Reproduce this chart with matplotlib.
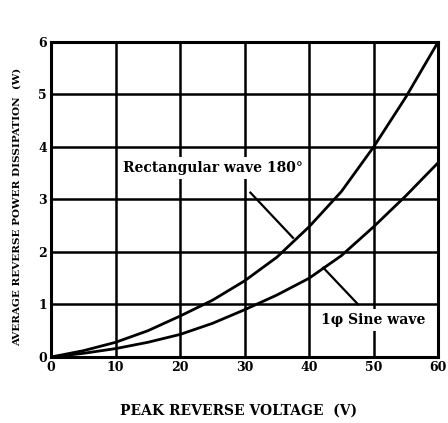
import matplotlib.pyplot as plt

# curves, every 5 V
voltage = [0, 5, 10, 15, 20, 25, 30, 35, 40, 45, 50, 55, 60]
rect_wave = [0, 0.12, 0.28, 0.5, 0.78, 1.08, 1.45, 1.9, 2.48, 3.15, 4.0, 4.95, 6.0]
sine_wave = [0, 0.07, 0.16, 0.28, 0.43, 0.64, 0.9, 1.18, 1.5, 1.93, 2.48, 3.07, 3.7]
xticks = [0, 10, 20, 30, 40, 50, 60]
yticks = [0, 1, 2, 3, 4, 5, 6]

fig = plt.figure(figsize=(4.48, 4.23), dpi=100)
ax = fig.add_axes([0.114, 0.156, 0.864, 0.745])

ax.plot(voltage, rect_wave, color='black', lw=2)
ax.plot(voltage, sine_wave, color='black', lw=2)

ax.set_xlim(0, 60)
ax.set_ylim(0, 6)
ax.set_xticks(xticks)
ax.set_yticks(yticks)
ax.grid(True, color='black', lw=1.8)
ax.tick_params(length=0, labelsize=9, pad=3)
for lab in ax.get_xticklabels() + ax.get_yticklabels():
    lab.set_fontweight('bold')
    lab.set_family('DejaVu Serif')
for s in ax.spines.values():
    s.set_linewidth(2.2)

box = dict(facecolor='white', edgecolor='none', pad=3)
ax.text(11.2, 3.6, 'Rectangular wave 180\u00b0', fontsize=10, fontweight='bold',
        family='DejaVu Serif', va='center', ha='left', bbox=box, zorder=5)
ax.plot([30.9, 37.5], [3.13, 2.27], color='black', lw=1.6)
ax.text(41.9, 0.71, '1\u03c6 Sine wave', fontsize=10, fontweight='bold',
        family='DejaVu Serif', va='center', ha='left', bbox=box, zorder=5)
ax.plot([42.2, 47.6], [1.7, 1.0], color='black', lw=1.6)

fig.text(0.532, 0.03, 'PEAK REVERSE VOLTAGE  (V)', ha='center', va='center',
         fontsize=10, fontweight='bold', family='DejaVu Serif')
fig.text(0.038, 0.51, 'AVERAGE REVERSE POWER DISSIPATION  (W)', ha='center',
         va='center', rotation=90, fontsize=7.5, fontweight='bold',
         family='DejaVu Serif')

fig.savefig('out.png', dpi=100)
